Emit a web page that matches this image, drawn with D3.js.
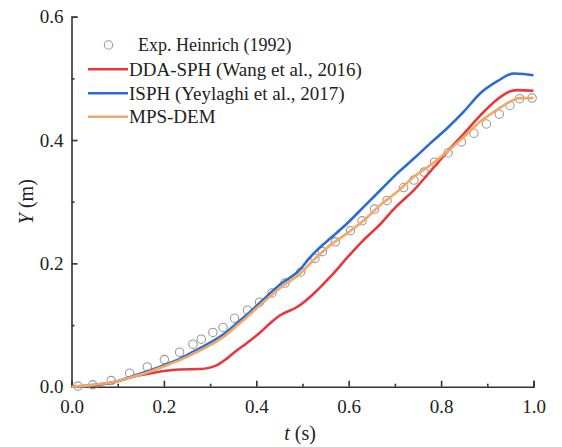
<!DOCTYPE html>
<html>
<head>
<meta charset="utf-8">
<script src="https://cdn.jsdelivr.net/npm/d3@7"></script>
<style>
  body { margin: 0; background: #fff; }
  svg { font-family: "Liberation Serif", "Times New Roman", serif; }
</style>
</head>
<body>
<svg width="562" height="447"></svg>
<script>
// experimental points (Heinrich 1992)
const tExp = [0.014, 0.046, 0.086, 0.126, 0.164, 0.201, 0.234, 0.263, 0.281, 0.306, 0.328, 0.353, 0.381, 0.407,
  0.434, 0.462, 0.496, 0.527, 0.543, 0.571, 0.604, 0.629, 0.656, 0.683, 0.719, 0.741, 0.763, 0.786,
  0.815, 0.844, 0.871, 0.898, 0.926, 0.949, 0.970, 0.997];
const yExp = [0.001, 0.003, 0.010, 0.022, 0.032, 0.044, 0.056, 0.069, 0.077, 0.088, 0.096, 0.111, 0.124, 0.137,
  0.152, 0.168, 0.186, 0.208, 0.219, 0.235, 0.253, 0.269, 0.288, 0.302, 0.323, 0.335, 0.348, 0.364,
  0.379, 0.397, 0.411, 0.426, 0.442, 0.456, 0.467, 0.468];

// DDA-SPH (Wang et al., 2016)
const tDda = [0, 0.05, 0.1, 0.125, 0.145, 0.164, 0.2, 0.234, 0.279, 0.315, 0.337, 0.359, 0.38, 0.41, 0.43, 0.45, 0.49,
  0.52, 0.56, 0.6, 0.63, 0.67, 0.7, 0.74, 0.78, 0.81, 0.85, 0.885, 0.92, 0.95, 0.965, 1.0];
const yDda = [0, 0.002, 0.009, 0.0145, 0.018, 0.0206, 0.0255, 0.028, 0.0287, 0.035, 0.046, 0.0595, 0.071, 0.089, 0.103,
  0.115, 0.130, 0.148, 0.178, 0.212, 0.236, 0.265, 0.290, 0.318, 0.352, 0.378, 0.411, 0.440, 0.465, 0.479, 0.481, 0.480];

// ISPH (Yeylaghi et al., 2017)
const tIsph = [0, 0.05, 0.1, 0.1255, 0.164, 0.2, 0.234, 0.262, 0.304, 0.3275, 0.355, 0.38, 0.409, 0.452, 0.496, 0.512,
  0.528, 0.561, 0.597, 0.633, 0.669, 0.705, 0.741, 0.777, 0.813, 0.849, 0.885, 0.921, 0.957, 0.979, 1.0];
const yIsph = [0, 0.003, 0.009, 0.0155, 0.025, 0.035, 0.045, 0.056, 0.073, 0.084, 0.101, 0.117, 0.137, 0.166, 0.191, 0.206,
  0.219, 0.241, 0.265, 0.292, 0.319, 0.346, 0.370, 0.395, 0.419, 0.446, 0.476, 0.495, 0.508, 0.507, 0.505];

// MPS-DEM
const tMps = [0, 0.048, 0.1, 0.1255, 0.164, 0.2, 0.234, 0.262, 0.304, 0.3275, 0.355, 0.38, 0.409, 0.452, 0.496, 0.524,
  0.561, 0.597, 0.633, 0.669, 0.705, 0.741, 0.777, 0.813, 0.849, 0.885, 0.921, 0.957, 0.971, 1.0];
const yMps = [0, 0.003, 0.009, 0.0145, 0.023, 0.033, 0.043, 0.053, 0.069, 0.080, 0.097, 0.113, 0.133, 0.1605, 0.184, 0.2055,
  0.230, 0.249, 0.270, 0.295, 0.316, 0.3405, 0.3595, 0.381, 0.405, 0.430, 0.449, 0.465, 0.468, 0.468];

const xTicks = [0, 0.2, 0.4, 0.6, 0.8, 1.0];
const yTicks = [0, 0.2, 0.4, 0.6];
const xMinor = [0.1, 0.3, 0.5, 0.7, 0.9];
const yMinor = [0.1, 0.3, 0.5];

const seriesNames = ['DDA-SPH (Wang et al., 2016)', 'ISPH (Yeylaghi et al., 2017)', 'MPS-DEM'];
const seriesColors = ['#e8383d', '#2b6cd4', '#f5a766'];

const svg = d3.select('svg');
const x = d3.scaleLinear().domain([0, 1]).range([71.5, 533.5]);
const y = d3.scaleLinear().domain([0, 0.6]).range([386.7, 16.7]);

const axisColor = '#333';

// axes, ticks point inward
svg.append('g')
    .attr('transform', `translate(0, ${y(0)})`)
    .call(d3.axisBottom(x).tickValues(xTicks).tickSize(-6).tickPadding(13).tickFormat(d3.format('.1f')));
svg.append('g')
    .attr('transform', `translate(0, ${y(0)})`)
    .call(d3.axisBottom(x).tickValues(xMinor).tickSize(-3).tickFormat(''))
    .call(g => g.select('.domain').remove());

svg.append('g')
    .attr('transform', `translate(${x(0)}, 0)`)
    .call(d3.axisLeft(y).tickValues(yTicks).tickSize(-6).tickPadding(8).tickFormat(d3.format('.1f')));
svg.append('g')
    .attr('transform', `translate(${x(0)}, 0)`)
    .call(d3.axisLeft(y).tickValues(yMinor).tickSize(-3).tickFormat(''))
    .call(g => g.select('.domain').remove());

svg.selectAll('.domain, .tick line')
    .attr('stroke', axisColor)
    .attr('stroke-width', 1.6);
svg.selectAll('.tick text')
    .attr('fill', '#222')
    .style('font-size', '19px')
    .style('font-family', '"Liberation Serif", serif');

// axis titles
const xTitle = svg.append('text')
    .attr('x', 300)
    .attr('y', 440)
    .attr('text-anchor', 'middle')
    .attr('fill', '#222')
    .style('font-size', '20px');
xTitle.append('tspan').attr('font-style', 'italic').text('t');
xTitle.append('tspan').text(' (s)');

const yTitle = svg.append('text')
    .attr('transform', `translate(33, ${(y(0) + y(0.6)) / 2}) rotate(-90)`)
    .attr('text-anchor', 'middle')
    .attr('fill', '#222')
    .style('font-size', '20px');
yTitle.append('tspan').attr('font-style', 'italic').text('Y');
yTitle.append('tspan').text(' (m)');

// lines
const line = d3.line()
    .x(d => x(d[0]))
    .y(d => y(d[1]))
    .curve(d3.curveMonotoneX);

const series = [
  d3.zip(tDda, yDda),
  d3.zip(tIsph, yIsph),
  d3.zip(tMps, yMps)
];

// experimental circles go under the lines
svg.append('g')
  .selectAll('circle')
  .data(d3.zip(tExp, yExp))
  .join('circle')
    .attr('cx', d => x(d[0]))
    .attr('cy', d => y(d[1]))
    .attr('r', 4.2)
    .attr('fill', 'none')
    .attr('stroke', '#9a9a9a')
    .attr('stroke-width', 1.1);

svg.append('g')
  .selectAll('path')
  .data(series)
  .join('path')
    .attr('d', line)
    .attr('fill', 'none')
    .attr('stroke', (d, i) => seriesColors[i])
    .attr('stroke-width', 2.6)
    .attr('stroke-linejoin', 'round');

// legend
const legend = svg.append('g');
legend.append('circle')
    .attr('cx', 108.5)
    .attr('cy', 45)
    .attr('r', 4.2)
    .attr('fill', 'none')
    .attr('stroke', '#9a9a9a')
    .attr('stroke-width', 1.1);
legend.append('text')
    .attr('x', 138)
    .attr('y', 51)
    .attr('fill', '#222')
    .style('font-size', '18px')
    .text('Exp. Heinrich (1992)');

const legendY = [69.3, 93.3, 116.7];
seriesNames.forEach((name, i) => {
  legend.append('line')
      .attr('x1', 88).attr('x2', 128)
      .attr('y1', legendY[i]).attr('y2', legendY[i])
      .attr('stroke', seriesColors[i])
      .attr('stroke-width', 2.6);
  legend.append('text')
      .attr('x', 129)
      .attr('y', legendY[i] + 6.5)
      .attr('fill', '#222')
      .style('font-size', '19px')
      .text(name);
});
</script>
</body>
</html>
